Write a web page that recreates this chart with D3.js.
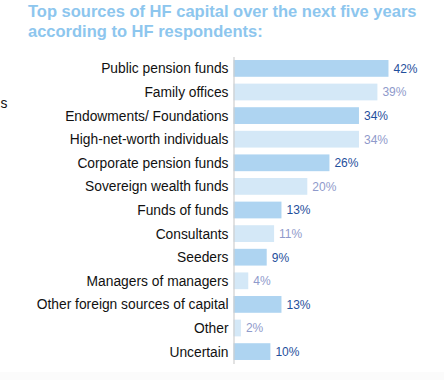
<!DOCTYPE html>
<html>
<head>
<meta charset="UTF-8">
<title>Top sources of HF capital</title>
<script src="https://d3js.org/d3.v7.min.js"></script>
<style>
  body { margin: 0; background: #fff; }
  svg { display: block; }
  .title { font-family: "Liberation Sans", Arial, sans-serif; font-weight: bold; font-size: 16.5px; fill: #8dc6ee; }
  .cat { font-family: "Liberation Sans", Arial, sans-serif; font-size: 13.8px; fill: #111; }
  .val { font-family: "Liberation Sans", Arial, sans-serif; font-size: 12px; }
</style>
</head>
<body>
<svg width="444" height="380"></svg>
<script>
  var categories = ["Public pension funds", "Family offices", "Endowments/ Foundations",
    "High-net-worth individuals", "Corporate pension funds", "Sovereign wealth funds",
    "Funds of funds", "Consultants", "Seeders", "Managers of managers",
    "Other foreign sources of capital", "Other", "Uncertain"]
  var values = [42, 39, 34, 34, 26, 20, 13, 11, 9, 4, 13, 2, 10]
  var titleLines = ["Top sources of HF capital over the next five years", "according to HF respondents:"]

  var svg = d3.select("svg")

  // faint strip at the bottom of the page
  svg.append("rect").attr("x", 0).attr("y", 372).attr("width", 444).attr("height", 8).attr("fill", "#fbfbfb")

  svg.selectAll(".title")
    .data(titleLines)
    .enter().append("text")
    .attr("class", "title")
    .attr("x", 28)
    .attr("y", function(d, i) { return 17 + i * 20 })
    .text(function(d) { return d })

  // leftover letter from the neighbouring column
  svg.append("text").attr("class", "cat").attr("x", 0.5).attr("y", 108).text("s")

  var x0 = 233.5
  var xScale = d3.scaleLinear().domain([0, 100]).range([0, 369])
  var yScale = d3.scaleBand()
    .domain(categories)
    .range([56.6, 56.6 + 13 * 23.6])
    .paddingInner(0.29)
    .paddingOuter(0.145)

  var g = svg.append("g").attr("transform", "translate(" + x0 + ",0)")

  var rows = categories.map(function(c, i) { return { cat: c, val: values[i], i: i } })

  g.selectAll("rect.bar")
    .data(rows)
    .enter().append("rect")
    .attr("class", "bar")
    .attr("x", 0)
    .attr("y", function(d) { return yScale(d.cat) })
    .attr("width", function(d) { return xScale(d.val) })
    .attr("height", yScale.bandwidth())
    .attr("fill", function(d) { return d.i % 2 == 0 ? "#aed4f1" : "#d4e8f7" })

  g.selectAll("text.val")
    .data(rows)
    .enter().append("text")
    .attr("class", "val")
    .attr("x", function(d) { return xScale(d.val) + 5 })
    .attr("y", function(d) { return yScale(d.cat) + yScale.bandwidth() / 2 })
    .attr("dy", "0.36em")
    .attr("fill", function(d) { return d.i % 2 == 0 ? "#1f4f9c" : "#8f9acb" })
    .text(function(d) { return d.val + "%" })

  var axis = g.append("g")
    .call(d3.axisLeft(yScale).tickSize(0).tickPadding(5))
  axis.select(".domain").attr("stroke", "#cfcfcf").attr("stroke-width", 1.2)
  axis.selectAll("text")
    .attr("class", "cat")
    .attr("font-size", null)
    .attr("font-family", null)
    .attr("dy", "0.36em")
</script>
</body>
</html>
